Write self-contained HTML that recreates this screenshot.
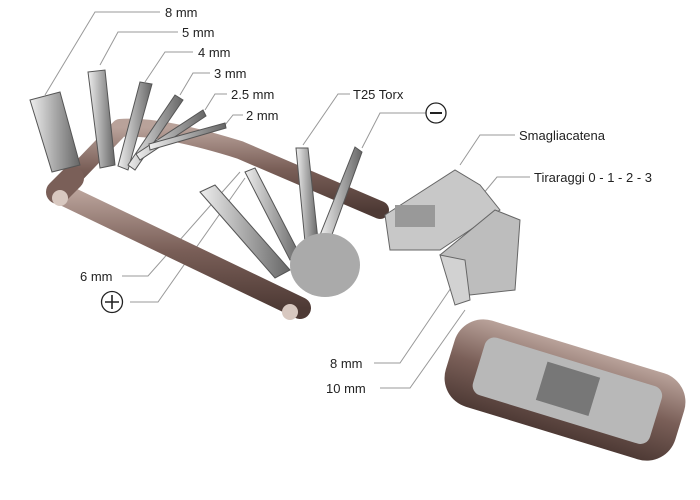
<!DOCTYPE html>
<html><head><meta charset="utf-8"><style>
html,body{margin:0;padding:0;background:#fff;width:700px;height:500px;overflow:hidden}
text{font-family:"Liberation Sans",sans-serif;font-size:13px;fill:#222}
</style></head><body>
<svg width="700" height="500" viewBox="0 0 700 500" xmlns="http://www.w3.org/2000/svg">
<defs>
<linearGradient id="br" x1="0" y1="0" x2="0" y2="1"><stop offset="0" stop-color="#b9a29a"/><stop offset=".5" stop-color="#7a5f58"/><stop offset="1" stop-color="#4e3a35"/></linearGradient>
<linearGradient id="si" x1="0" y1="0" x2="1" y2="0"><stop offset="0" stop-color="#eee"/><stop offset=".5" stop-color="#a9a9a9"/><stop offset="1" stop-color="#666"/></linearGradient>
</defs>
<g stroke="#999" stroke-width="1" fill="none">
<polyline points="160,12 95,12 45,95"/>
<polyline points="178,32 118,32 100,65"/>
<polyline points="193,52 165,52 145,82"/>
<polyline points="210,73 193,73 180,95"/>
<polyline points="227,94 215,94 205,110"/>
<polyline points="243,115 233,115 225,125"/>
<polyline points="350,94 338,94 303,145"/>
<polyline points="426,113 380,113 362,148"/>
<polyline points="515,135 480,135 460,165"/>
<polyline points="530,177 497,177 478,200"/>
<polyline points="122,276 148,276 240,172"/>
<polyline points="130,302 158,302 245,178"/>
<polyline points="374,363 400,363 455,282"/>
<polyline points="380,388 410,388 465,310"/>
</g>
<!-- frame -->
<path d="M70,180 L120,128 Q160,125 240,150 L380,210" stroke="url(#br)" stroke-width="18" fill="none" stroke-linecap="round" stroke-linejoin="round"/>
<path d="M58,192 L300,308" stroke="url(#br)" stroke-width="22" fill="none" stroke-linecap="round"/>
<path d="M58,192 L72,178" stroke="#7a5f58" stroke-width="24" stroke-linecap="round"/>
<circle cx="60" cy="198" r="8" fill="#d8c8c0"/>
<circle cx="290" cy="312" r="8" fill="#d8c8c0"/>
<g stroke="#555" stroke-width="1">
<polygon points="30,100 60,92 80,165 52,172" fill="url(#si)"/>
<polygon points="88,72 105,70 115,165 100,168" fill="url(#si)"/>
<polygon points="140,82 152,84 128,170 118,166" fill="url(#si)"/>
<polygon points="175,95 183,100 135,170 128,165" fill="url(#si)"/>
<polygon points="203,110 206,116 140,160 136,154" fill="url(#si)"/>
<polygon points="225,123 226,128 150,150 149,144" fill="url(#si)"/>
<polygon points="200,192 215,185 290,270 275,278" fill="url(#si)"/>
<polygon points="245,172 255,168 300,255 290,260" fill="url(#si)"/>
<polygon points="296,148 308,148 318,240 305,242" fill="url(#si)"/>
<polygon points="355,147 362,152 330,240 320,235" fill="url(#si)"/>
</g>
<ellipse cx="325" cy="265" rx="35" ry="32" fill="#aaa"/>
<g stroke="#666" stroke-width="1">
<polygon points="385,215 455,170 480,185 500,210 440,250 390,250" fill="#c8c8c8"/>
<polygon points="440,255 495,210 520,220 515,290 470,295" fill="#bdbdbd"/>
<polygon points="440,255 465,260 470,300 455,305" fill="#d2d2d2"/>
</g>
<rect x="395" y="205" width="40" height="22" fill="#999"/>
<g transform="rotate(17 565 390)">
<rect x="445" y="345" width="240" height="90" rx="30" fill="url(#br)"/>
<rect x="475" y="360" width="185" height="60" rx="10" fill="#b8b8b8"/>
<rect x="540" y="368" width="55" height="40" fill="#777"/>
</g>
<text x="165" y="17">8 mm</text>
<text x="182" y="37">5 mm</text>
<text x="198" y="57">4 mm</text>
<text x="214" y="78">3 mm</text>
<text x="231" y="99">2.5 mm</text>
<text x="246" y="120">2 mm</text>
<text x="353" y="99">T25 Torx</text>
<circle cx="436" cy="113" r="10" fill="#fff" stroke="#222" stroke-width="1.3"/>
<line x1="430" y1="113" x2="442" y2="113" stroke="#222" stroke-width="2"/>
<text x="519" y="140">Smagliacatena</text>
<text x="534" y="182">Tiraraggi 0 - 1 - 2 - 3</text>
<text x="80" y="281">6 mm</text>
<circle cx="112" cy="302" r="10.5" fill="#fff" stroke="#222" stroke-width="1.3"/>
<path d="M105,302 H119 M112,295 V309" stroke="#222" stroke-width="1.6"/>
<text x="330" y="368">8 mm</text>
<text x="326" y="393">10 mm</text>
</svg>
</body></html>
